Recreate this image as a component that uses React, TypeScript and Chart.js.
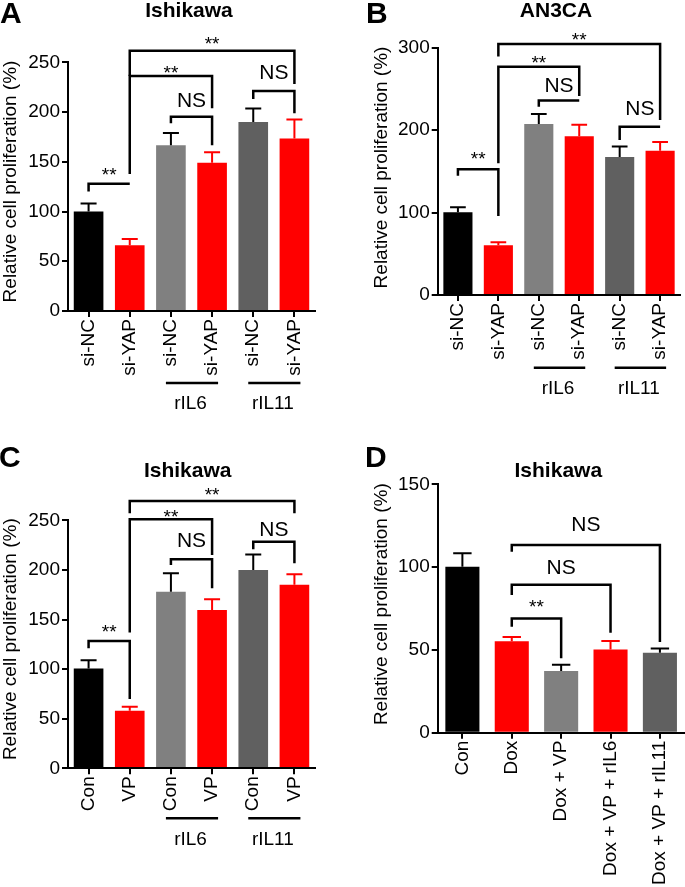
import React, { useEffect, useRef } from 'react';
import { Chart, registerables } from 'chart.js';

Chart.register(...registerables);

const FONT = '"Liberation Sans", Arial, Helvetica, sans-serif';
const Y_TITLE = 'Relative cell proliferation (%)';

// ---------- Data ----------
// Panel A (Ishikawa, siRNA)
const labelsA = ['si-NC', 'si-YAP', 'si-NC', 'si-YAP', 'si-NC', 'si-YAP'];
const valuesA = [100, 66, 166.5, 149, 190, 173.5];
const errorsA = [8, 6.5, 12.5, 10.7, 13.5, 19];
const ticksA = { max: 250, step: 50 };
const groupsA = [
  { label: 'rIL6', from: 2, to: 3 },
  { label: 'rIL11', from: 4, to: 5 },
];
const bracketsA = [
  { from: 0, to: 1, y: 128, left: 120, right: 128, text: '**' },
  { from: 2, to: 3, y: 195.3, left: 188.7, right: 166.6, text: 'NS' },
  { from: 4, to: 5, y: 221.2, left: 213.1, right: 198.7, text: 'NS' },
  { from: 1, to: 3, y: 236.2, left: 137.7, right: 203.8, text: '**' },
  { from: 1, to: 5, y: 261.7, left: 236.2, right: 228.2, text: '**' },
];

// Panel B (AN3CA, siRNA)
const labelsB = ['si-NC', 'si-YAP', 'si-NC', 'si-YAP', 'si-NC', 'si-YAP'];
const valuesB = [100.5, 60.5, 207.5, 192.5, 167.5, 175];
const errorsB = [6, 3.5, 12, 14, 12.5, 10.5];
const ticksB = { max: 300, step: 100 };
const groupsB = [
  { label: 'rIL6', from: 2, to: 3 },
  { label: 'rIL11', from: 4, to: 5 },
];
const bracketsB = [
  { from: 0, to: 1, y: 152.5, left: 144.8, right: 95.9, text: '**' },
  { from: 2, to: 3, y: 235.8, left: 228.5, right: 235.8, text: 'NS' },
  { from: 4, to: 5, y: 204.2, left: 188.1, right: 204.2, text: 'NS' },
  { from: 1, to: 3, y: 277, left: 159.8, right: 241.5, text: '**' },
  { from: 1, to: 5, y: 304.6, left: 289.2, right: 212.4, text: '**' },
];

// Panel C (Ishikawa, verteporfin)
const labelsC = ['Con', 'VP', 'Con', 'VP', 'Con', 'VP'];
const valuesC = [100.5, 58, 178, 159.5, 200, 185];
const errorsC = [8.5, 4, 18.5, 11, 15.5, 10.5];
const ticksC = { max: 250, step: 50 };
const groupsC = [
  { label: 'rIL6', from: 2, to: 3 },
  { label: 'rIL11', from: 4, to: 5 },
];
const bracketsC = [
  { from: 0, to: 1, y: 128.3, left: 121, right: 69.9, text: '**' },
  { from: 2, to: 3, y: 210.7, left: 205, right: 181.5, text: 'NS' },
  { from: 4, to: 5, y: 228.4, left: 220.8, right: 206.7, text: 'NS' },
  { from: 1, to: 3, y: 251, left: 137, right: 214.9, text: '**' },
  { from: 1, to: 5, y: 269.4, left: 257, right: 257, text: '**' },
];

// Panel D (Ishikawa, doxorubicin)
const labelsD = ['Con', 'Dox', 'Dox + VP', 'Dox + VP + rIL6', 'Dox + VP + rIL11'];
const valuesD = [100.2, 55.2, 37.2, 50.3, 48.3];
const errorsD = [8.1, 2.6, 3.9, 5.1, 2.6];
const ticksD = { max: 150, step: 50 };
const groupsD: { label: string; from: number; to: number }[] = [];
const bracketsD = [
  { from: 1, to: 2, y: 69, left: 64, right: 44.9, text: '**' },
  { from: 1, to: 3, y: 89.4, left: 83.1, right: 60.4, text: 'NS' },
  { from: 1, to: 4, y: 113.3, left: 109.3, right: 54.8, text: 'NS' },
];

// ---------- Styles / layout ----------
const BLACK = '#000000';
const RED = '#ff0000';
const LGRAY = '#808080';
const DGRAY = '#606060';

const panelA = {
  letter: 'A', title: 'Ishikawa', labels: labelsA, values: valuesA, errors: errorsA, ticks: ticksA,
  groups: groupsA, brackets: bracketsA,
  colors: [BLACK, RED, LGRAY, RED, DGRAY, RED],
  gaps: [2.8, 10.2, 11.5, -3, 0.8],
  box: { left: 0, top: 0, W: 340, H: 440 },
  area: { L: 68, R: 315, T: 62.3, B: 311 },
  barPct: 0.72,
  letterPos: [0, 23.3], titlePos: [189, 16.7], yTitlePos: [16, 181.5],
  groupLine: 72, groupLabel: 97.8,
};
const panelB = {
  letter: 'B', title: 'AN3CA', labels: labelsB, values: valuesB, errors: errorsB, ticks: ticksB,
  groups: groupsB, brackets: bracketsB,
  colors: [BLACK, RED, LGRAY, RED, DGRAY, RED],
  gaps: [4.4, 8.2, 11.9, -2.5, -1.9],
  box: { left: 340, top: 0, W: 345, H: 440 },
  area: { L: 97.7, R: 344, T: 47.7, B: 295 },
  barPct: 0.72,
  letterPos: [26, 23.3], titlePos: [216, 17.3], yTitlePos: [46.7, 167.5],
  groupLine: 72.7, groupLabel: 98.5,
};
const panelC = {
  letter: 'C', title: 'Ishikawa', labels: labelsC, values: valuesC, errors: errorsC, ticks: ticksC,
  groups: groupsC, brackets: bracketsC,
  colors: [BLACK, RED, LGRAY, RED, DGRAY, RED],
  gaps: [3.4, 12.3, 5.7, -3.3, 0],
  box: { left: 0, top: 440, W: 340, H: 447 },
  area: { L: 68, R: 315, T: 80.3, B: 328.3 },
  barPct: 0.72,
  letterPos: [-1, 27], titlePos: [187.7, 36.7], yTitlePos: [16, 199.2],
  groupLine: 50, groupLabel: 76.8,
};
const panelD = {
  letter: 'D', title: 'Ishikawa', labels: labelsD, values: valuesD, errors: errorsD, ticks: ticksD,
  groups: groupsD, brackets: bracketsD,
  colors: [BLACK, RED, LGRAY, RED, DGRAY],
  gaps: [5.1, 10.5, 14.2],
  box: { left: 340, top: 440, W: 345, H: 447 },
  area: { L: 97.7, R: 344.6, T: 44.3, B: 292.7 },
  barPct: 0.69,
  letterPos: [25, 27], titlePos: [218.3, 36.7], yTitlePos: [46.7, 164.2],
  groupLine: 0, groupLabel: 0,
};

type PanelCfg = typeof panelA;

function makeDecorations(p: PanelCfg) {
  return {
    id: 'decor' + p.letter,
    afterDatasetsDraw(chart: any) {
      const { ctx } = chart;
      const ys = chart.scales.y;
      const meta = chart.getDatasetMeta(0);
      ctx.save();
      ctx.lineWidth = 2;
      ctx.lineCap = 'butt';
      meta.data.forEach((bar: any, i: number) => {
        const props = bar.getProps(['x', 'y', 'width'], true);
        const top = ys.getPixelForValue(p.values[i] + p.errors[i]);
        const col = p.colors[i] === RED ? RED : BLACK;
        const half = props.width * 0.27;
        ctx.strokeStyle = col;
        ctx.beginPath();
        ctx.moveTo(props.x, props.y);
        ctx.lineTo(props.x, top);
        ctx.moveTo(props.x - half, top);
        ctx.lineTo(props.x + half, top);
        ctx.stroke();
      });
      ctx.restore();
    },
    afterDraw(chart: any) {
      const { ctx, chartArea } = chart;
      const xs = chart.scales.x;
      const ys = chart.scales.y;
      ctx.save();
      ctx.fillStyle = BLACK;
      ctx.strokeStyle = BLACK;
      ctx.textBaseline = 'alphabetic';

      // panel letter
      ctx.font = `bold 30px ${FONT}`;
      ctx.textAlign = 'left';
      ctx.fillText(p.letter, p.letterPos[0], p.letterPos[1]);

      // title
      ctx.font = `bold 21px ${FONT}`;
      ctx.textAlign = 'center';
      ctx.fillText(p.title, p.titlePos[0], p.titlePos[1]);

      // y-axis title
      ctx.save();
      ctx.translate(p.yTitlePos[0], p.yTitlePos[1]);
      ctx.rotate(-Math.PI / 2);
      ctx.font = `19px ${FONT}`;
      ctx.textAlign = 'center';
      ctx.fillText(Y_TITLE, 0, 0);
      ctx.restore();

      // significance brackets
      ctx.lineWidth = 2.5;
      ctx.lineJoin = 'miter';
      p.brackets.forEach((b, k) => {
        const x1 = xs.getPixelForValue(b.from);
        const x2 = xs.getPixelForValue(b.to);
        const yy = ys.getPixelForValue(b.y);
        const yl = ys.getPixelForValue(b.left);
        const yr = ys.getPixelForValue(b.right);
        ctx.beginPath();
        ctx.moveTo(x1, yl);
        ctx.lineTo(x1, yy);
        ctx.lineTo(x2, yy);
        ctx.lineTo(x2, yr);
        ctx.stroke();
        ctx.font = b.text === 'NS' ? `21px ${FONT}` : `19px ${FONT}`;
        ctx.textAlign = 'center';
        ctx.fillText(b.text, (x1 + x2) / 2, yy - p.gaps[k]);
      });

      // group labels under x axis
      p.groups.forEach((g) => {
        const xa = xs.getPixelForValue(g.from);
        const xb = xs.getPixelForValue(g.to);
        const ly = chartArea.bottom + p.groupLine;
        ctx.lineWidth = 2.5;
        ctx.beginPath();
        ctx.moveTo(xa - 5, ly);
        ctx.lineTo(xb + 6, ly);
        ctx.stroke();
        ctx.font = `19px ${FONT}`;
        ctx.textAlign = 'center';
        ctx.fillText(g.label, (xa + xb) / 2 - 1, chartArea.bottom + p.groupLabel);
      });
      ctx.restore();
    },
  };
}

function Panel({ p }: { p: PanelCfg }) {
  const ref = useRef<HTMLCanvasElement | null>(null);
  useEffect(() => {
    if (!ref.current) return;
    const { W, H } = p.box;
    const { L, R, T, B } = p.area;
    const tickFont = { family: FONT, size: 19 };
    const chart = new Chart(ref.current, {
      type: 'bar',
      data: {
        labels: p.labels,
        datasets: [
          {
            data: p.values,
            backgroundColor: p.colors,
            borderWidth: 0,
            barPercentage: p.barPct,
            categoryPercentage: 1,
          },
        ],
      },
      options: {
        animation: false,
        responsive: false,
        maintainAspectRatio: false,
        devicePixelRatio: 1,
        layout: { padding: { left: 0, right: W - R, top: T, bottom: 0 } },
        plugins: {
          legend: { display: false },
          tooltip: { enabled: false },
          title: { display: false },
        },
        scales: {
          x: {
            offset: true,
            grid: {
              display: true,
              drawOnChartArea: false,
              offset: false,
              tickLength: 6,
              color: BLACK,
              lineWidth: 2,
              z: 1,
            },
            border: { display: true, color: BLACK, width: 2, z: 1 },
            ticks: {
              font: tickFont,
              color: BLACK,
              minRotation: 90,
              maxRotation: 90,
              autoSkip: false,
              padding: 2,
            },
            afterFit: (s: any) => {
              s.height = H - B;
            },
          },
          y: {
            min: 0,
            max: p.ticks.max,
            grid: {
              display: true,
              drawOnChartArea: false,
              tickLength: 6,
              color: BLACK,
              lineWidth: 2,
              z: 1,
            },
            border: { display: true, color: BLACK, width: 2, z: 1 },
            ticks: {
              stepSize: p.ticks.step,
              font: tickFont,
              color: BLACK,
              padding: 2,
            },
            afterFit: (s: any) => {
              s.width = L;
            },
          },
        },
      } as any,
      plugins: [makeDecorations(p)],
    });
    return () => chart.destroy();
  }, [p]);
  return (
    <canvas
      ref={ref}
      width={p.box.W}
      height={p.box.H}
      style={{
        position: 'absolute',
        left: p.box.left,
        top: p.box.top,
        width: p.box.W,
        height: p.box.H,
      }}
    />
  );
}

export default function App() {
  return (
    <div
      style={{
        position: 'absolute',
        left: 0,
        top: 0,
        width: 685,
        height: 887,
        background: '#ffffff',
        overflow: 'hidden',
      }}
    >
      <Panel p={panelA} />
      <Panel p={panelB} />
      <Panel p={panelC} />
      <Panel p={panelD} />
    </div>
  );
}
